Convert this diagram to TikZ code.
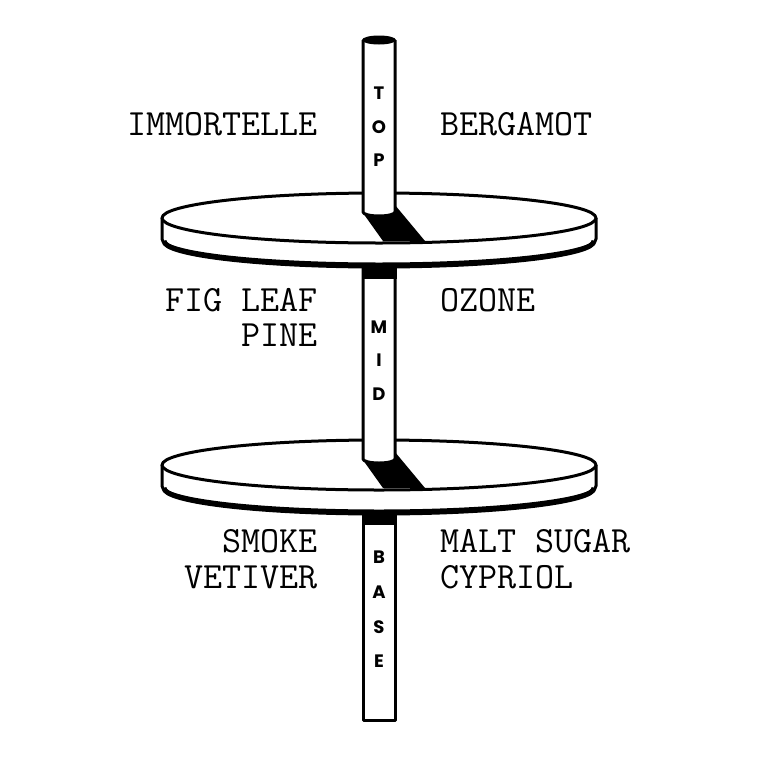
\documentclass[tikz,border=0pt]{standalone}
\usepackage{fontspec}
\newfontfamily\polef{Poppins}
\begin{document}
\begin{tikzpicture}[x=1pt,y=-1pt,line join=round,
  lab/.style={font=\ttfamily\fontsize{37}{40}\selectfont,inner sep=0pt},
  pl/.style={font=\polef\bfseries\fontsize{18}{20}\selectfont,inner sep=0pt},
  ln/.style={line width=3pt}]
\fill[white] (0,0) rectangle (761,761);
\useasboundingbox (0,0) rectangle (761,761);
% discs with shadows
\foreach \cy in {218,465}{
  \draw[ln,fill=white] (162,\cy) -- (162,\cy+21) arc[start angle=180,end angle=0,x radius=217,y radius=25] -- (596,\cy);
  \draw[line width=5pt] (164,\cy+23) arc[start angle=180,end angle=0,x radius=215,y radius=25];
  \draw[ln,fill=white] (379,\cy) ellipse[x radius=217,y radius=25];
  \fill (363,\cy-5) -- (395,\cy-13) -- (425,\cy+23) -- (383,\cy+23) -- cycle;
}
% top pole
\draw[ln,fill=white] (363,40) -- (363,212) arc[start angle=180,end angle=0,x radius=16,y radius=4] -- (395,40);
\fill (379,40) ellipse[x radius=17,y radius=4.5];
% mid pole
\draw[ln,fill=white] (363,264) -- (363,459) arc[start angle=180,end angle=0,x radius=16,y radius=4] -- (395,264);
\fill (361.5,263) rectangle (396.5,279);
% base pole
\draw[ln,fill=white] (363,511) rectangle (395,720);
\fill (361.5,510) rectangle (396.5,525);
% pole letters
\node[pl] (t1) at (379,93) {T};
\node[pl] (t2) at (379,127) {O};
\node[pl] (t3) at (379,160) {P};
\node[pl] (m1) at (379,327) {M};
\node[pl] (m2) at (379,360) {I};
\node[pl] (m3) at (379,394) {D};
\node[pl] (b1) at (379,557) {B};
\node[pl] (b2) at (379,592) {A};
\node[pl] (b3) at (379,627) {S};
\node[pl] (b4) at (379,661) {E};
% labels
\node[lab,anchor=east] (l1) at (318,124) {IMMORTELLE};
\node[lab,anchor=west] (r1) at (440,124) {BERGAMOT};
\node[lab,anchor=east] (l2) at (318,300) {FIG LEAF};
\node[lab,anchor=east] (l3) at (318,335) {PINE};
\node[lab,anchor=west] (r2) at (440,300) {OZONE};
\node[lab,anchor=east] (l4) at (318,541) {SMOKE};
\node[lab,anchor=east] (l5) at (318,577) {VETIVER};
\node[lab,anchor=west] (r3) at (440,541) {MALT SUGAR};
\node[lab,anchor=west] (r4) at (440,577) {CYPRIOL};
\end{tikzpicture}
\end{document}
